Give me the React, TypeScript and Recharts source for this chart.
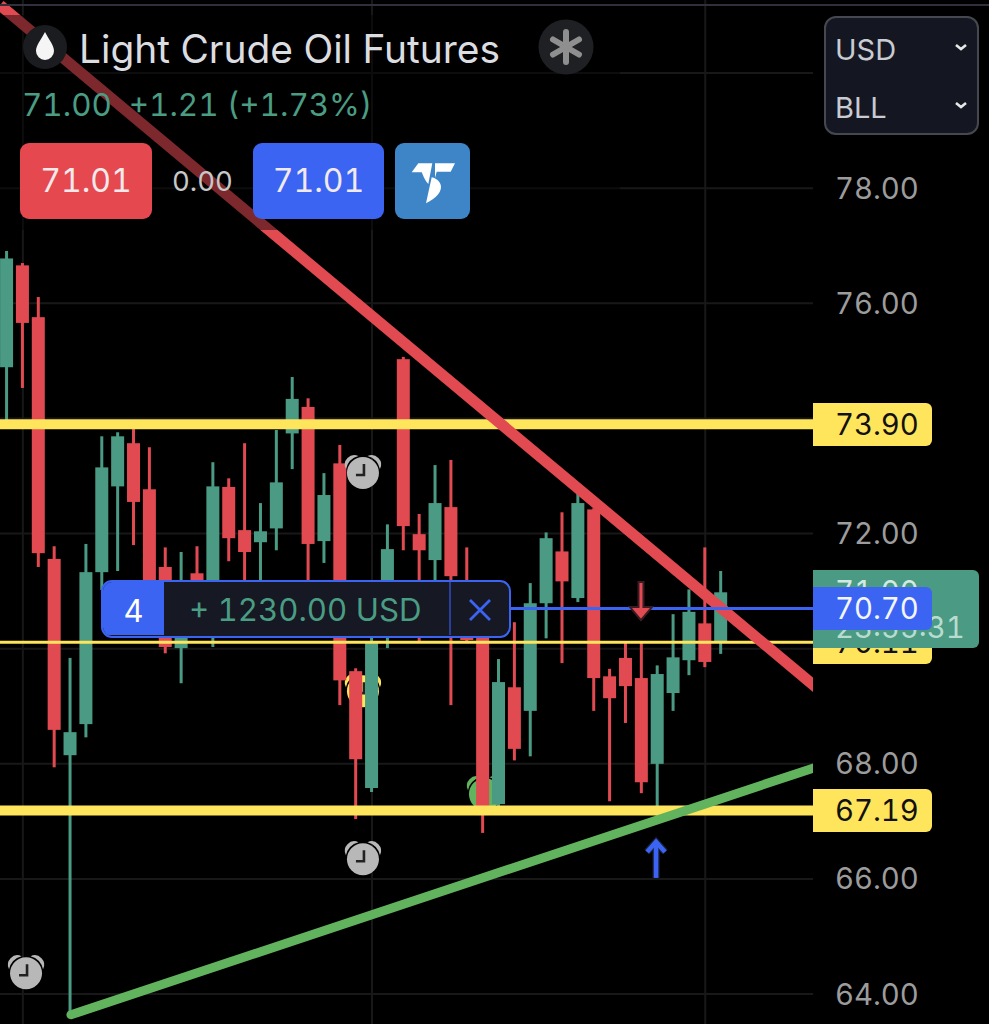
import React from "react";
import { ComposedChart, Bar, XAxis, YAxis, CartesianGrid, ReferenceLine, ReferenceDot } from "recharts";

const opens = [74.89,76.66,75.76,71.56,68.15,68.69,71.33,72.82,73.57,72.77,71.42,70.01,71.31,70.84,72.81,72.06,71.85,72.09,73.74,74.20,71.87,73.22,69.61,67.58,70.50,75.03,71.99,71.54,72.46,70.50,70.84,67.30,69.33,68.92,70.79,71.69,70.88,72.42,69.52,69.84,69.49,68.00,69.23,69.80,70.44,70.13];
const highs = [76.91,76.70,76.11,71.78,69.84,71.82,73.69,73.76,73.90,73.50,71.76,71.68,71.78,73.24,72.96,73.57,72.53,73.80,74.72,74.35,73.05,73.54,69.66,70.20,72.16,75.07,72.34,73.19,73.28,71.76,71.02,69.82,70.46,71.14,72.02,72.37,72.70,72.44,69.65,70.10,70.13,69.71,70.60,71.03,71.76,71.35];
const lows = [73.92,74.53,71.42,67.94,63.69,68.46,71.02,71.35,71.80,70.50,69.92,69.40,70.41,70.03,71.52,71.02,70.84,71.71,73.12,71.02,71.49,69.02,67.04,67.51,70.01,71.71,70.13,70.93,69.02,70.10,66.80,67.14,68.06,68.13,70.18,69.75,70.81,68.92,67.35,68.71,67.49,67.07,68.92,69.54,69.68,69.91];
const closes = [76.78,75.66,71.66,68.59,68.55,71.33,73.15,73.69,72.55,70.67,70.03,70.50,70.67,72.82,71.92,71.68,72.04,72.89,74.34,71.82,72.67,69.45,68.08,70.11,71.73,72.13,71.71,72.53,71.26,70.15,67.11,69.42,68.26,70.79,71.92,71.17,72.53,69.49,69.14,69.35,67.68,69.56,69.85,70.64,69.77,70.98];

const candles = opens.map((o, i) => ({ i, o, h: highs[i], l: lows[i], c: closes[i] }));

const yTicks = [64, 66, 68, 70, 72, 74, 76, 78];
const gridRows = [64, 66, 68, 70, 72, 74, 76, 78, 80];
const gridCols = [1, 23, 44];
const xDomain = [-0.441, 50.79];
const yDomain = [63.48, 81.27];
const supportLevels = [73.9, 67.19];
const thinLevel = 70.11;
const positionLevel = 70.7;
const redTrend = [{ x: -0.441, y: 81.18 }, { x: 51.5, y: 69.21 }];
const greenTrend = [{ x: 4.03, y: 63.64 }, { x: 51.5, y: 67.99 }];
const positionSegment = [{ x: 31.76, y: positionLevel }, { x: 50.79, y: positionLevel }];
const grayClocks = [{ x: 1.2, y: 64.38 }, { x: 22.43, y: 73.07 }, { x: 22.43, y: 66.36 }];
const yellowClock = { x: 22.43, y: 69.28 };
const greenClock = { x: 30.12, y: 67.49 };

const RED = "#e24a52";
const GREEN = "#4a9a84";
const BLUE = "#3b64f3";
const YELLOW = "#ffe55c";
const FONT = "Inter, 'Noto Sans', sans-serif";
const TAB = "tabular-nums";

const Candle = (props: any) => {
  const { x, y, width, height, payload } = props;
  const { o, h, l, c } = payload;
  const unit = height / (h - l);
  const top = y + (h - Math.max(o, c)) * unit;
  const bottom = y + (h - Math.min(o, c)) * unit;
  const color = c >= o ? GREEN : RED;
  const cx = x + width / 2;
  return (
    <g>
      <rect x={cx - 1.5} y={y} width={3} height={height} fill={color} />
      <rect x={x} y={top} width={width} height={bottom - top} fill={color} />
    </g>
  );
};

const clockShape = (color: string) => (p: any) => {
  const { cx, cy } = p;
  return (
    <g transform={`translate(${cx},${cy})`}>
      <path d="M4.5,-16 A9.5,9.5 0 0 1 17,-3 A17.5,17.5 0 0 0 4.5,-16 Z" fill={color} />
      <path d="M-4.5,-16 A9.5,9.5 0 0 0 -17,-3 A17.5,17.5 0 0 1 -4.5,-16 Z" fill={color} />
      <circle cx={0} cy={1} r={16} fill={color} />
      <path d="M1,-8 L1,3 L-7,3" fill="none" stroke="#222" strokeWidth={2.6} />
    </g>
  );
};

const DownArrow = (p: any) => {
  const { cx, cy } = p;
  return (
    <g transform={`translate(${cx},${cy})`}>
      <path d="M-2.5,-20 L2.5,-20 L2.5,5 L11,5 L0,18 L-11,5 L-2.5,5 Z" fill={RED} stroke="#3a1c22" strokeWidth={2} />
    </g>
  );
};

const UpArrow = (p: any) => {
  const { cx, cy } = p;
  return (
    <g transform={`translate(${cx},${cy})`}>
      <path d="M0,-19 L0,18" stroke="#1a2140" strokeWidth={7} />
      <path d="M-9,-8 L0,-18 L9,-8" fill="none" stroke="#1a2140" strokeWidth={7} />
      <path d="M0,-18 L0,18" stroke={BLUE} strokeWidth={4.5} />
      <path d="M-9,-8 L0,-18 L9,-8" fill="none" stroke={BLUE} strokeWidth={4.5} />
    </g>
  );
};

const AxisTick = (p: any) => (
  <text x={835} y={p.y} dy="0.36em" fill="#9c9c9c" fontSize={29.3} fontFamily={FONT} style={{ fontVariantNumeric: TAB }}>
    {Number(p.payload.value).toFixed(2)}
  </text>
);

const abs = (s: React.CSSProperties): React.CSSProperties => ({
  position: "absolute",
  fontFamily: FONT,
  whiteSpace: "nowrap",
  fontVariantNumeric: TAB,
  ...s,
});

const PriceBox = ({ top, left, width, height, bg, color, text, textLeft, radius = "0 6px 6px 0", size = 29.3 }: any) => (
  <div style={abs({ top, left, width, height, background: bg, color, borderRadius: radius, fontSize: size, lineHeight: `${height}px`, paddingLeft: textLeft, boxSizing: "border-box" })}>{text}</div>
);

const CenterBox = ({ left, top, width, height, bg, text }: any) => (
  <div style={abs({ left, top, width, height, background: bg, borderRadius: 9, color: "#f2e9ea", fontSize: 32, textAlign: "center", lineHeight: `${height}px` })}>{text}</div>
);

export default function App() {
  return (
    <div style={{ position: "absolute", left: 0, top: 0, width: 989, height: 1024, background: "#000", overflow: "hidden" }}>
      <ComposedChart width={989} height={1024} data={candles} margin={{ top: 0, right: 0, bottom: 0, left: 0 }} style={{ position: "absolute", left: 0, top: 0 }}>
        <CartesianGrid stroke="#181818" strokeWidth={2} horizontalValues={gridRows} verticalValues={gridCols} />
        <XAxis dataKey="i" type="number" domain={xDomain} allowDataOverflow hide />
        <YAxis orientation="right" width={176} domain={yDomain} allowDataOverflow ticks={yTicks} interval={0} axisLine={false} tickLine={false} tick={AxisTick} />
        <ReferenceDot x={yellowClock.x} y={yellowClock.y} r={1} shape={clockShape(YELLOW)} zIndex={50} />
        <ReferenceDot x={greenClock.x} y={greenClock.y} r={1} shape={clockShape("#62b35e")} zIndex={50} />
        {supportLevels.map((v) => (
          <ReferenceLine key={v} y={v} stroke={YELLOW} strokeWidth={10} />
        ))}
        <ReferenceLine y={thinLevel} stroke={YELLOW} strokeWidth={3} />
        <ReferenceLine segment={redTrend} stroke={RED} strokeWidth={11} ifOverflow="hidden" />
        <ReferenceLine segment={greenTrend} stroke="#62b35e" strokeWidth={9} strokeLinecap="round" ifOverflow="hidden" />
        <Bar dataKey={(d: any) => [d.l, d.h]} barSize={13} shape={Candle} isAnimationActive={false} />
        <ReferenceLine segment={positionSegment} stroke={BLUE} strokeWidth={3} />
        {grayClocks.map((c, i) => (
          <ReferenceDot key={i} x={c.x} y={c.y} r={1} shape={clockShape("#b8b8b8")} />
        ))}
        <ReferenceDot x={39.95} y={70.81} r={1} shape={DownArrow} />
        <ReferenceDot x={40.9} y={66.33} r={1} shape={UpArrow} />
      </ComposedChart>

      {/* header dimming and rule */}
      <div style={abs({ left: 0, top: 15, width: 620, height: 215, background: "rgba(0,0,0,0.45)" })} />
      <div style={abs({ left: 0, top: 4, width: 989, height: 2, background: "#30303c" })} />

      {/* title */}
      <svg style={{ position: "absolute", left: 0, top: 0 }} width={620} height={230}>
        <circle cx={45} cy={47} r={22} fill="#1b1c20" />
        <path d="M45,32 C49,40 54,45 54,51 A9,9 0 0 1 36,51 C36,45 41,40 45,32 Z" fill="#f5f5f5" />
        <circle cx={566} cy={47} r={27.5} fill="#1f2023" />
        <g stroke="#8f8f8f" strokeWidth={6} strokeLinecap="round">
          <line x1={566} y1={32} x2={566} y2={62} />
          <line x1={553} y1={39.5} x2={579} y2={54.5} />
          <line x1={553} y1={54.5} x2={579} y2={39.5} />
        </g>
        <rect x={395} y={143} width={75} height={76} rx={9} fill="#3d85c6" />
        <path d="M418.3,163.3 L432.3,163.3 L428.3,184 C424,179 423,175 421.7,172.3 L411.7,172.3 Z" fill="#fff" />
        <path d="M435,163.3 L455,163.3 L450.7,171.7 L436.7,171.7 L435,178 Z" fill="#fff" />
        <path d="M431.7,177.3 C443,180 447,193 426,203.3 Z" fill="#fff" />
      </svg>
      <div style={abs({ left: 79, top: 26, fontSize: 38.9, lineHeight: "46px", color: "#dcdde0" })}>Light Crude Oil Futures</div>
      <div style={abs({ left: 22, top: 85, fontSize: 31.4, lineHeight: "40px", color: "#4a9d83" })}>71.00&nbsp;&nbsp;+1.21 (+1.73%)</div>
      <CenterBox left={20} top={143} width={132} height={76} bg="#e5484f" text="71.01" />
      <div style={abs({ left: 172, top: 164, fontSize: 27.5, lineHeight: "34px", color: "#c8c8c8" })}>0.00</div>
      <CenterBox left={253} top={143} width={131} height={76} bg={BLUE} text="71.01" />

      {/* selectors */}
      <div style={abs({ left: 824, top: 16, width: 155, height: 119, background: "#141722", border: "2.5px solid #45484f", borderRadius: 12, boxSizing: "border-box" })} />
      <div style={abs({ left: 835, top: 32, fontSize: 29, lineHeight: "36px", color: "#c9cbd2" })}>USD</div>
      <div style={abs({ left: 835, top: 90, fontSize: 29, lineHeight: "36px", color: "#c9cbd2" })}>BLL</div>
      <svg style={{ position: "absolute", left: 950, top: 36 }} width={24} height={80}>
        <path d="M6,9 L11,13 L16,9" fill="none" stroke="#e8e8ea" strokeWidth={2.6} />
        <path d="M6,67 L11,71 L16,67" fill="none" stroke="#e8e8ea" strokeWidth={2.6} />
      </svg>

      {/* price labels */}
      <PriceBox left={813} top={403} width={119} height={43} bg={YELLOW} color="#111" text="73.90" textLeft={22} />
      <PriceBox left={813} top={789} width={119} height={43} bg={YELLOW} color="#111" text="67.19" textLeft={22} />
      <PriceBox left={813} top={621} width={119} height={43} bg={YELLOW} color="#111" text="70.11" textLeft={22} />
      <div style={abs({ left: 813, top: 570, width: 166, height: 78, background: GREEN, borderRadius: "0 6px 6px 0" })} />
      <div style={abs({ left: 835, top: 574, fontSize: 29.3, lineHeight: "36px", color: "#d3e9e1" })}>71.00</div>
      <div style={abs({ left: 835, top: 610, fontSize: 29.3, lineHeight: "36px", color: "#b9dcd0" })}>23:55:31</div>
      <PriceBox left={813} top={587} width={119} height={43} bg={BLUE} color="#f4f6ff" text="70.70" textLeft={22} />

      {/* position widget */}
      <div style={abs({ left: 101, top: 580, width: 410, height: 58, background: "#161823", border: `2.5px solid ${BLUE}`, borderRadius: 11, boxSizing: "border-box", overflow: "hidden" })}>
        <div style={abs({ left: 0, top: 0, width: 61, height: 53, background: BLUE, color: "#fff", fontSize: 31, lineHeight: "57px", textAlign: "center" })}>4</div>
        <div style={abs({ left: 86, top: 0, fontSize: 31.2, lineHeight: "57px", color: "#4a9d83" })}>+ 1230.00 USD</div>
        <div style={abs({ left: 346, top: 0, width: 1.5, height: 53, background: "#2a3f9c" })} />
        <svg style={{ position: "absolute", left: 364, top: 15 }} width={26} height={26}>
          <path d="M3,3 L23,23 M23,3 L3,23" stroke={BLUE} strokeWidth={2.8} />
        </svg>
      </div>
    </div>
  );
}
